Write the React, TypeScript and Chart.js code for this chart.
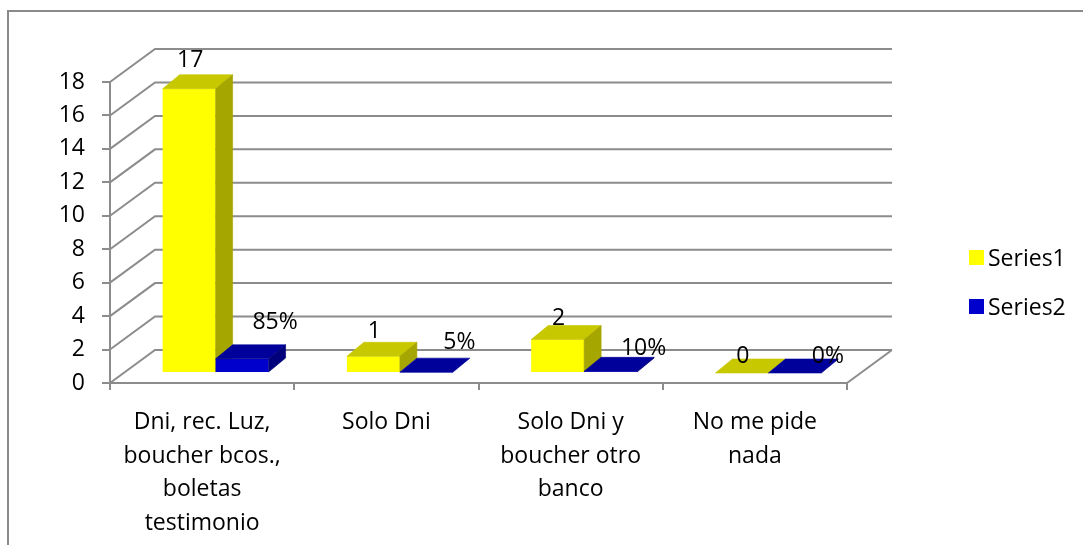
import { useEffect, useRef } from 'react';
import { Chart, registerables } from 'chart.js';

Chart.register(...registerables);

// ---------- data ----------
const categories: string[][] = [
  ['Dni, rec. Luz,', 'boucher bcos.,', 'boletas', 'testimonio'],
  ['Solo Dni'],
  ['Solo Dni y', 'boucher otro', 'banco'],
  ['No me pide', 'nada'],
];
const series1: number[] = [17, 1, 2, 0];
const series2: number[] = [0.85, 0.05, 0.1, 0];
const seriesNames: string[] = ['Series1', 'Series2'];
const yMin = 0;
const yMax = 18;
const yStep = 2;

// ---------- style ----------
const FONT = "'Open Sans', 'Liberation Sans', sans-serif";
const FONT_SIZE = 23;
const GRID = '#8c8c8c';
const FACES = [
  { front: '#FFFF00', top: '#C8C800', side: '#A6A600' },
  { front: '#0000CC', top: '#00009A', side: '#00007C' },
];
const WALL = { dx: 45, dy: -33 };
const BAR_SHIFT = { dx: 13.5, dy: -10 };
const BAR_DEPTH = { dx: 17, dy: -14 };

const fmtLabel = (d: number, v: number) => (d === 1 ? `${Math.round(v * 100)}%` : `${v}`);

const poly = (ctx: CanvasRenderingContext2D, pts: number[][], color: string) => {
  ctx.beginPath();
  ctx.moveTo(pts[0][0], pts[0][1]);
  for (let i = 1; i < pts.length; i++) ctx.lineTo(pts[i][0], pts[i][1]);
  ctx.closePath();
  ctx.fillStyle = color;
  ctx.strokeStyle = color;
  ctx.lineWidth = 0.6;
  ctx.fill();
  ctx.stroke();
};

const threeD = {
  id: 'threeD',
  beforeDraw(chart: any) {
    const { ctx } = chart;
    ctx.save();
    ctx.strokeStyle = '#8a8a8a';
    ctx.lineWidth = 2;
    ctx.beginPath();
    ctx.moveTo(8, chart.height + 5);
    ctx.lineTo(8, 11);
    ctx.lineTo(chart.width + 5, 11);
    ctx.stroke();
    ctx.restore();
  },
  beforeDatasetsDraw(chart: any) {
    const { ctx, chartArea, scales } = chart;
    const { left, right, bottom } = chartArea;
    const y = scales.y;
    ctx.save();
    ctx.strokeStyle = GRID;
    ctx.lineWidth = 2;
    ctx.beginPath();
    y.ticks.forEach((t: any) => {
      const py = y.getPixelForValue(t.value);
      ctx.moveTo(left, py);
      ctx.lineTo(left + WALL.dx, py + WALL.dy);
      ctx.lineTo(right + WALL.dx, py + WALL.dy);
    });
    ctx.moveTo(right, bottom);
    ctx.lineTo(right + WALL.dx, bottom + WALL.dy);
    ctx.stroke();
    ctx.restore();
  },
  beforeDatasetDraw() {
    return false;
  },
  afterDatasetsDraw(chart: any) {
    const { ctx, chartArea } = chart;
    const n = chart.data.labels.length;
    const nd = chart.data.datasets.length;
    ctx.save();
    ctx.translate(BAR_SHIFT.dx, BAR_SHIFT.dy);
    for (let i = 0; i < n; i++) {
      for (let d = 0; d < nd; d++) {
        const el = chart.getDatasetMeta(d).data[i];
        el.draw(ctx, chartArea);
        const { x, y, base, width } = el.getProps(['x', 'y', 'base', 'width'], true);
        const l = x - width / 2;
        const r = x + width / 2;
        const f = FACES[d];
        poly(ctx, [[l, y], [l + BAR_DEPTH.dx, y + BAR_DEPTH.dy], [r + BAR_DEPTH.dx, y + BAR_DEPTH.dy], [r, y]], f.top);
        if (base - y > 0.5) {
          poly(ctx, [[r, y], [r + BAR_DEPTH.dx, y + BAR_DEPTH.dy], [r + BAR_DEPTH.dx, base + BAR_DEPTH.dy], [r, base]], f.side);
        }
      }
    }
    ctx.restore();

    // data labels
    ctx.save();
    ctx.font = `${FONT_SIZE}px ${FONT}`;
    ctx.fillStyle = '#000';
    ctx.textAlign = 'center';
    ctx.textBaseline = 'middle';
    for (let d = 0; d < nd; d++) {
      const meta = chart.getDatasetMeta(d);
      const vals = chart.data.datasets[d].data;
      meta.data.forEach((el: any, i: number) => {
        const { x, y } = el.getProps(['x', 'y'], true);
        const cx = x + BAR_SHIFT.dx;
        const top = y + BAR_SHIFT.dy;
        const rel = cx - chartArea.left;
        let lx, ly;
        if (d === 0) {
          lx = cx + 1;
          ly = top - 29.6 + 0.02 * rel;
        } else {
          lx = cx + 33;
          ly = top - 40.6 + 0.035 * rel;
        }
        ctx.fillText(fmtLabel(d, vals[i]), lx, ly);
      });
    }
    ctx.restore();
  },
  afterDraw(chart: any) {
    const { ctx, chartArea } = chart;
    ctx.save();
    ctx.font = `${FONT_SIZE}px ${FONT}`;
    ctx.textAlign = 'left';
    ctx.textBaseline = 'alphabetic';
    chart.data.datasets.forEach((ds: any, i: number) => {
      const bx = chartArea.right + 122;
      const by = 250 + i * 49;
      ctx.fillStyle = ds.backgroundColor;
      ctx.fillRect(bx, by, 15, 15);
      ctx.fillStyle = '#000';
      ctx.fillText(ds.label, bx + 19, by + 16);
    });
    ctx.restore();
  },
};

export default function App() {
  const ref = useRef<HTMLCanvasElement | null>(null);
  useEffect(() => {
    document.body.style.margin = '0';
    const canvas = ref.current!;
    const chart = new Chart(canvas, {
      type: 'bar',
      data: {
        labels: categories as any,
        datasets: [
          { label: seriesNames[0], data: series1, backgroundColor: FACES[0].front, borderWidth: 0 },
          { label: seriesNames[1], data: series2, backgroundColor: FACES[1].front, borderWidth: 0 },
        ],
      },
      options: {
        responsive: false,
        animation: false,
        events: [],
        layout: { padding: { left: 0, top: 82, right: 236, bottom: 0 } },
        datasets: { bar: { categoryPercentage: 0.575, barPercentage: 1 } } as any,
        plugins: { legend: { display: false }, tooltip: { enabled: false }, title: { display: false } },
        scales: {
          x: {
            type: 'category',
            offset: true,
            grid: { offset: true, drawOnChartArea: false, drawTicks: true, tickLength: 7, color: GRID, lineWidth: 2 },
            border: { display: true, color: GRID, width: 2 },
            ticks: {
              autoSkip: false,
              maxRotation: 0,
              minRotation: 0,
              padding: 16,
              color: '#000',
              font: { family: FONT, size: FONT_SIZE, lineHeight: 1.46 },
            },
            afterFit: (s: any) => {
              s.height = 545 - 383;
            },
          },
          y: {
            type: 'linear',
            min: yMin,
            max: yMax,
            grid: { drawOnChartArea: false, drawTicks: true, tickLength: 8, color: GRID, lineWidth: 2 },
            border: { display: true, color: GRID, width: 2 },
            ticks: {
              stepSize: yStep,
              padding: 17,
              color: '#000',
              font: { family: FONT, size: FONT_SIZE },
            },
            afterFit: (s: any) => {
              s.width = 110;
            },
          },
        },
      },
      plugins: [threeD],
    });
    return () => chart.destroy();
  }, []);
  return (
    <div style={{ position: 'absolute', left: 0, top: 0, width: 1083, height: 545, background: '#fff' }}>
      <canvas ref={ref} width={1083} height={545} style={{ display: 'block', width: 1083, height: 545 }} />
    </div>
  );
}
